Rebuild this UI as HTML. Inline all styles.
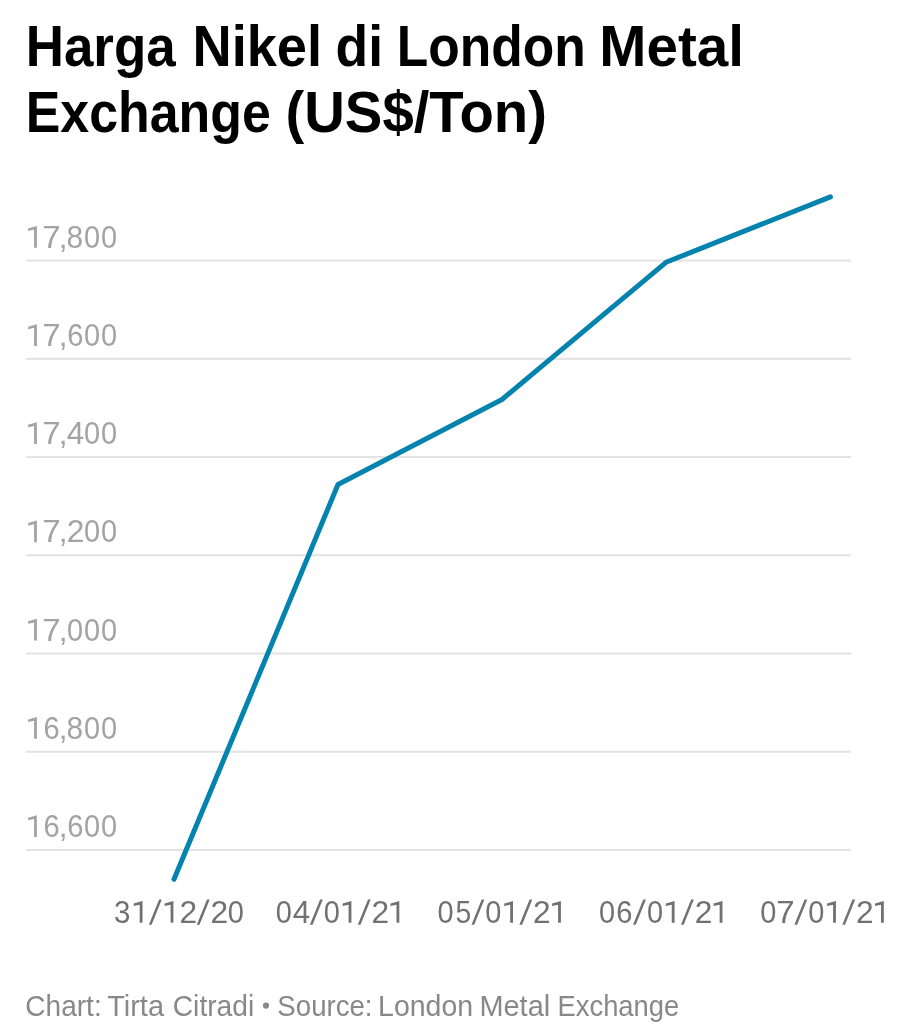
<!DOCTYPE html>
<html>
<head>
<meta charset="utf-8">
<style>
html,body{margin:0;padding:0;background:#fff;width:921px;height:1024px;overflow:hidden}
svg{display:block;will-change:transform}
text{font-family:"Liberation Sans",sans-serif}
.t{font-weight:700;fill:#000;font-size:57.6px}
.y{fill:#a3a3a3;font-size:31.5px}
.x{fill:#717171;font-size:31.5px}
.f{fill:#888;font-size:29px}
</style>
</head>
<body>
<svg width="921" height="1024" viewBox="0 0 921 1024">
<g fill="#e3e3e3">
<rect x="26" y="259.60" width="825" height="2"/>
<rect x="26" y="357.83" width="825" height="2"/>
<rect x="26" y="456.07" width="825" height="2"/>
<rect x="26" y="554.30" width="825" height="2"/>
<rect x="26" y="652.53" width="825" height="2"/>
<rect x="26" y="750.77" width="825" height="2"/>
<rect x="26" y="849.00" width="825" height="2"/>
</g>
<text class="t" transform="translate(25.70,65.70) scale(0.9192,1)">Harga</text>
<text class="t" transform="translate(192.47,65.70) scale(0.9418,1)">Nikel</text>
<text class="t" transform="translate(335.61,65.70) scale(0.9274,1)">di</text>
<text class="t" transform="translate(396.84,65.70) scale(0.8947,1)">London</text>
<text class="t" transform="translate(599.32,65.70) scale(0.9824,1)">Metal</text>
<text class="t" transform="translate(25.72,131.70) scale(0.9010,1)">Exchange</text>
<text class="t" transform="translate(285.51,131.70) scale(0.9767,1)">(US$/Ton)</text>
<text class="f" transform="translate(25.35,1016.00) scale(0.9672,1)">Chart:</text>
<text class="f" transform="translate(107.15,1016.00) scale(0.9991,1)">Tirta</text>
<text class="f" transform="translate(172.74,1016.00) scale(0.9732,1)">Citradi</text>
<text class="f" transform="translate(277.37,1016.00) scale(0.9525,1)">Source:</text>
<text class="f" transform="translate(378.04,1016.00) scale(0.9832,1)">London</text>
<text class="f" transform="translate(479.40,1016.00) scale(0.9985,1)">Metal</text>
<text class="f" transform="translate(557.54,1016.00) scale(0.9437,1)">Exchange</text>
<circle cx="266" cy="1005.6" r="3.1" fill="#888"/>
<g>
<text class="y" transform="translate(42.13,247.60) scale(1.0483,1)">7</text>
<text class="y" transform="translate(58.65,247.60) scale(1.0000,1)">,</text>
<text class="y" transform="translate(66.58,247.60) scale(0.9492,1)">8</text>
<text class="y" transform="translate(83.95,247.60) scale(0.9200,1)">0</text>
<text class="y" transform="translate(100.95,247.60) scale(0.9200,1)">0</text>
<text class="y" transform="translate(42.13,345.83) scale(1.0483,1)">7</text>
<text class="y" transform="translate(58.65,345.83) scale(1.0000,1)">,</text>
<text class="y" transform="translate(67.26,345.83) scale(0.9241,1)">6</text>
<text class="y" transform="translate(83.95,345.83) scale(0.9200,1)">0</text>
<text class="y" transform="translate(100.95,345.83) scale(0.9200,1)">0</text>
<text class="y" transform="translate(42.13,444.07) scale(1.0483,1)">7</text>
<text class="y" transform="translate(58.65,444.07) scale(1.0000,1)">,</text>
<text class="y" transform="translate(66.85,444.07) scale(0.9968,1)">4</text>
<text class="y" transform="translate(83.95,444.07) scale(0.9200,1)">0</text>
<text class="y" transform="translate(100.95,444.07) scale(0.9200,1)">0</text>
<text class="y" transform="translate(42.13,542.30) scale(1.0483,1)">7</text>
<text class="y" transform="translate(58.65,542.30) scale(1.0000,1)">,</text>
<text class="y" transform="translate(66.79,542.30) scale(1.0069,1)">2</text>
<text class="y" transform="translate(83.95,542.30) scale(0.9200,1)">0</text>
<text class="y" transform="translate(100.95,542.30) scale(0.9200,1)">0</text>
<text class="y" transform="translate(42.13,640.53) scale(1.0483,1)">7</text>
<text class="y" transform="translate(58.65,640.53) scale(1.0000,1)">,</text>
<text class="y" transform="translate(66.95,640.53) scale(0.9200,1)">0</text>
<text class="y" transform="translate(83.95,640.53) scale(0.9200,1)">0</text>
<text class="y" transform="translate(100.95,640.53) scale(0.9200,1)">0</text>
<text class="y" transform="translate(43.56,738.77) scale(0.9241,1)">6</text>
<text class="y" transform="translate(58.65,738.77) scale(1.0000,1)">,</text>
<text class="y" transform="translate(66.58,738.77) scale(0.9492,1)">8</text>
<text class="y" transform="translate(83.95,738.77) scale(0.9200,1)">0</text>
<text class="y" transform="translate(100.95,738.77) scale(0.9200,1)">0</text>
<text class="y" transform="translate(43.56,837.00) scale(0.9241,1)">6</text>
<text class="y" transform="translate(58.65,837.00) scale(1.0000,1)">,</text>
<text class="y" transform="translate(67.26,837.00) scale(0.9241,1)">6</text>
<text class="y" transform="translate(83.95,837.00) scale(0.9200,1)">0</text>
<text class="y" transform="translate(100.95,837.00) scale(0.9200,1)">0</text>
</g>
<path fill="#a3a3a3" d="M36.90,225.90L36.90,247.65L34.10,247.65L34.10,229.60L28.10,230.90L28.10,228.40ZM36.90,324.13L36.90,345.88L34.10,345.88L34.10,327.83L28.10,329.13L28.10,326.63ZM36.90,422.37L36.90,444.12L34.10,444.12L34.10,426.07L28.10,427.37L28.10,424.87ZM36.90,520.60L36.90,542.35L34.10,542.35L34.10,524.30L28.10,525.60L28.10,523.10ZM36.90,618.83L36.90,640.58L34.10,640.58L34.10,622.53L28.10,623.83L28.10,621.33ZM36.90,717.07L36.90,738.82L34.10,738.82L34.10,720.77L28.10,722.07L28.10,719.57ZM36.90,815.30L36.90,837.05L34.10,837.05L34.10,819.00L28.10,820.30L28.10,817.80Z"/>
<g>
<text class="x" transform="translate(113.93,922.75) scale(0.9356,1)">3</text>
<text class="x" transform="translate(179.59,922.75) scale(1.0069,1)">2</text>
<text class="x" transform="translate(210.49,922.75) scale(1.0069,1)">2</text>
<text class="x" transform="translate(227.65,922.75) scale(0.9200,1)">0</text>
<text class="x" transform="translate(275.85,922.75) scale(0.9200,1)">0</text>
<text class="x" transform="translate(292.75,922.75) scale(0.9968,1)">4</text>
<text class="x" transform="translate(323.75,922.75) scale(0.9200,1)">0</text>
<text class="x" transform="translate(371.49,922.75) scale(1.0069,1)">2</text>
<text class="x" transform="translate(437.45,922.75) scale(0.9200,1)">0</text>
<text class="x" transform="translate(455.48,922.75) scale(0.9000,1)">5</text>
<text class="x" transform="translate(485.35,922.75) scale(0.9200,1)">0</text>
<text class="x" transform="translate(533.09,922.75) scale(1.0069,1)">2</text>
<text class="x" transform="translate(599.00,922.75) scale(0.9200,1)">0</text>
<text class="x" transform="translate(616.31,922.75) scale(0.9241,1)">6</text>
<text class="x" transform="translate(646.90,922.75) scale(0.9200,1)">0</text>
<text class="x" transform="translate(694.64,922.75) scale(1.0069,1)">2</text>
<text class="x" transform="translate(760.35,922.75) scale(0.9200,1)">0</text>
<text class="x" transform="translate(776.23,922.75) scale(1.0483,1)">7</text>
<text class="x" transform="translate(808.25,922.75) scale(0.9200,1)">0</text>
<text class="x" transform="translate(855.99,922.75) scale(1.0069,1)">2</text>
</g>
<path fill="#717171" d="M142.50,901.05L142.50,922.80L139.70,922.80L139.70,904.75L133.70,906.05L133.70,903.55ZM148.90,924.70L151.60,924.70L161.80,899.60L159.10,899.60ZM173.40,901.05L173.40,922.80L170.60,922.80L170.60,904.75L164.60,906.05L164.60,903.55ZM196.80,924.70L199.50,924.70L209.70,899.60L207.00,899.60ZM309.90,924.70L312.60,924.70L322.80,899.60L320.10,899.60ZM351.40,901.05L351.40,922.80L348.60,922.80L348.60,904.75L342.60,906.05L342.60,903.55ZM357.80,924.70L360.50,924.70L370.70,899.60L368.00,899.60ZM399.30,901.05L399.30,922.80L396.50,922.80L396.50,904.75L390.50,906.05L390.50,903.55ZM471.50,924.70L474.20,924.70L484.40,899.60L481.70,899.60ZM513.00,901.05L513.00,922.80L510.20,922.80L510.20,904.75L504.20,906.05L504.20,903.55ZM519.40,924.70L522.10,924.70L532.30,899.60L529.60,899.60ZM560.90,901.05L560.90,922.80L558.10,922.80L558.10,904.75L552.10,906.05L552.10,903.55ZM633.05,924.70L635.75,924.70L645.95,899.60L643.25,899.60ZM674.55,901.05L674.55,922.80L671.75,922.80L671.75,904.75L665.75,906.05L665.75,903.55ZM680.95,924.70L683.65,924.70L693.85,899.60L691.15,899.60ZM722.45,901.05L722.45,922.80L719.65,922.80L719.65,904.75L713.65,906.05L713.65,903.55ZM794.40,924.70L797.10,924.70L807.30,899.60L804.60,899.60ZM835.90,901.05L835.90,922.80L833.10,922.80L833.10,904.75L827.10,906.05L827.10,903.55ZM842.30,924.70L845.00,924.70L855.20,899.60L852.50,899.60ZM883.80,901.05L883.80,922.80L881.00,922.80L881.00,904.75L875.00,906.05L875.00,903.55Z"/>
<polyline points="174,879.3 338,484.5 502,399.5 666,262.3 830.4,196.9" fill="none" stroke="#0383ae" stroke-width="5" stroke-linejoin="round" stroke-linecap="round"/>
</svg>
</body>
</html>
